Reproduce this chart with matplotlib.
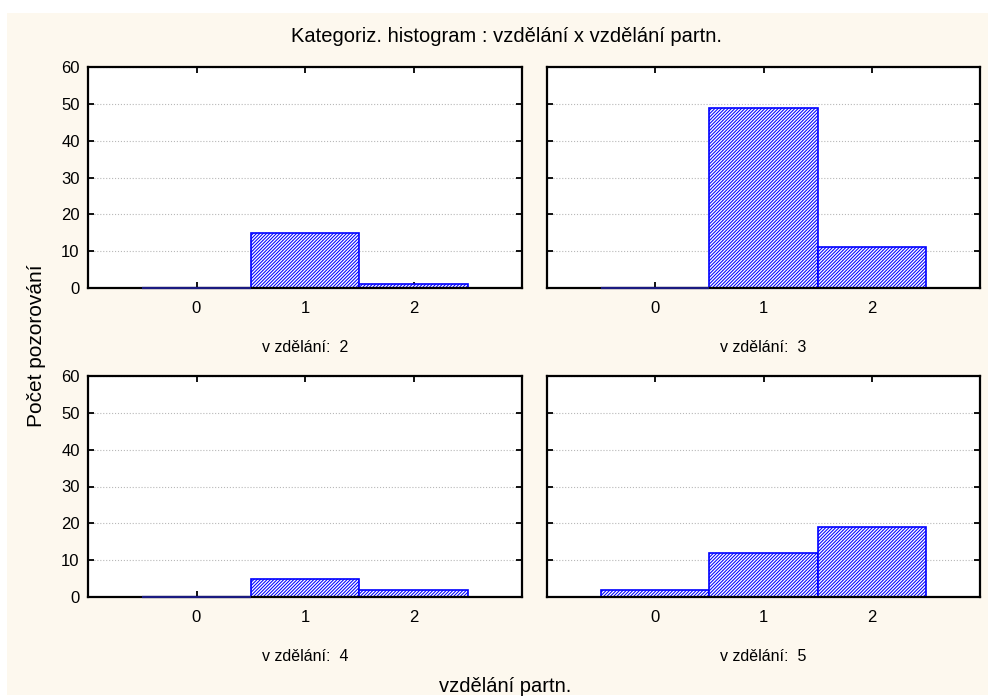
import matplotlib.pyplot as plt
from matplotlib.patches import Rectangle

# Data - počty pozorování podle vzdělání partnera
kategorie = [0, 1, 2]
skupiny = ["v zdělání:  2", "v zdělání:  3", "v zdělání:  4", "v zdělání:  5"]
pocty_2 = [0, 15, 1]
pocty_3 = [0, 49, 11]
pocty_4 = [0, 5, 2]
pocty_5 = [2, 12, 19]
y_ticks = [0, 10, 20, 30, 40, 50, 60]

plt.rcParams['font.family'] = ['Liberation Sans', 'DejaVu Sans']
plt.rcParams['hatch.linewidth'] = 0.75

modra = '#0000ff'
pozadi = '#fdf8ee'

fig = plt.figure(figsize=(9.88, 6.98), dpi=100)
fig.patch.set_facecolor('white')
fig.patches.append(Rectangle((7 / 988, 3 / 698), 981 / 988, 682 / 698,
                             transform=fig.transFigure, facecolor=pozadi,
                             edgecolor='none', zorder=-1))

W, H = 988, 698
pozice = [(88, 67, 522, 288), (547, 67, 980, 288),
          (88, 376, 522, 597), (547, 376, 980, 597)]
data = [pocty_2, pocty_3, pocty_4, pocty_5]

for i, ((x0, y0, x1, y1), pocty, nazev) in enumerate(zip(pozice, data, skupiny)):
    ax = fig.add_axes([x0 / W, 1 - y1 / H, (x1 - x0) / W, (y1 - y0) / H])
    ax.set_facecolor('white')
    ax.bar(kategorie, pocty, width=1.0, facecolor='white', edgecolor=modra,
           hatch='//////////', linewidth=1.2, zorder=3)
    # nulove sloupce jako tenka tmave modra cara na ose
    for k, p in zip(kategorie, pocty):
        if p == 0:
            ax.plot([k - 0.5, k + 0.5], [p, p], color='#1a1a80', lw=1.6,
                    zorder=5, clip_on=False, solid_capstyle='butt')
    ax.set_xlim(-1, 3)
    ax.set_ylim(0, 60)
    ax.set_xticks(kategorie)
    ax.set_yticks(y_ticks)
    ax.grid(axis='y', color='#b8b8b8', linestyle=':', linewidth=0.8, zorder=0)
    ax.tick_params(direction='in', length=4, width=1.3, top=True, right=True,
                   labelsize=12)
    ax.tick_params(axis='x', pad=9)
    ax.tick_params(axis='y', pad=6)
    if i % 2 == 1:
        ax.tick_params(labelleft=False)
    for s in ax.spines.values():
        s.set_linewidth(1.6)
        s.set_zorder(4)
    ax.text(0.5, -0.27, nazev, transform=ax.transAxes, ha='center', va='center',
            fontsize=11.5)

fig.text(506 / W, 1 - 36 / H, 'Kategoriz. histogram : vzdělání x vzdělání partn.',
         ha='center', va='center', fontsize=14.5)
fig.text(37 / W, 1 - 346 / H, 'Počet pozorování', rotation=90,
         ha='center', va='center', fontsize=15)
fig.text(505 / W, 1 - 686 / H, 'vzdělání partn.', ha='center', va='center',
         fontsize=14.5)

plt.savefig('out.png', dpi=100, facecolor='white')
